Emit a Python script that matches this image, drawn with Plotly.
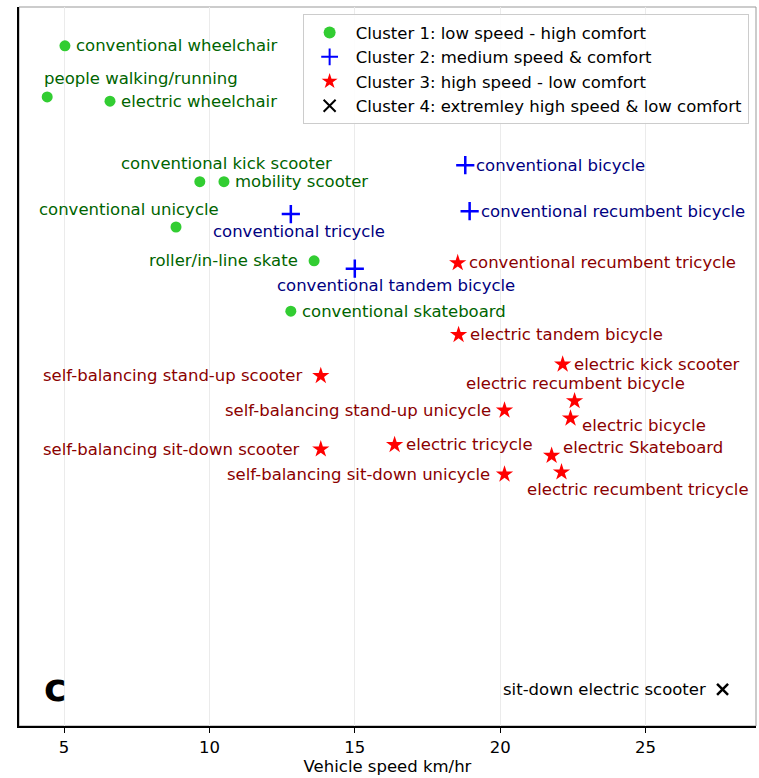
import plotly.graph_objects as go

# cluster 1: low speed - high comfort
c1_names = ["conventional wheelchair", "people walking/running", "electric wheelchair",
            "conventional kick scooter", "mobility scooter", "conventional unicycle",
            "roller/in-line skate", "conventional skateboard"]
c1_speed = [5.03, 4.42, 6.58, 9.67, 10.5, 8.85, 13.6, 12.8]
c1_comfort = [94.6, 87.5, 86.9, 75.7, 75.7, 69.4, 64.7, 57.7]

# cluster 2: medium speed & comfort
c2_names = ["conventional bicycle", "conventional tricycle",
            "conventional recumbent bicycle", "conventional tandem bicycle"]
c2_speed = [18.8, 12.8, 18.95, 15.0]
c2_comfort = [78.0, 71.2, 71.6, 63.6]

# cluster 3: high speed - low comfort
c3_names = ["conventional recumbent tricycle", "electric tandem bicycle", "electric kick scooter",
            "electric recumbent bicycle", "electric bicycle", "self-balancing stand-up scooter",
            "self-balancing stand-up unicycle", "self-balancing sit-down scooter",
            "electric tricycle", "electric Skateboard", "self-balancing sit-down unicycle",
            "electric recumbent tricycle"]
c3_speed = [18.54, 18.57, 22.15, 22.56, 22.42, 13.83, 20.15, 13.83, 16.37, 21.77, 20.15, 22.11]
c3_comfort = [64.4, 54.4, 50.3, 45.2, 42.8, 48.7, 43.9, 38.5, 39.1, 37.6, 35.0, 35.3]

# cluster 4: extremley high speed & low comfort
c4_names = ["sit-down electric scooter"]
c4_speed = [27.65]
c4_comfort = [5.1]

legend_names = ["Cluster 1: low speed - high comfort", "Cluster 2: medium speed & comfort",
                "Cluster 3: high speed - low comfort", "Cluster 4: extremley high speed & low comfort"]

# label placement: (xanchor, xshift, yshift)
R = ("left", 9, 0)
place = {
    "people walking/running": ("left", -5, 18),
    "conventional kick scooter": ("center", 27, 18),
    "conventional unicycle": ("right", 45, 18),
    "roller/in-line skate": ("right", -14, 0),
    "conventional tricycle": ("center", 8, -17),
    "conventional tandem bicycle": ("center", 41, -17),
    "electric recumbent bicycle": ("center", 1, 18),
    "electric bicycle": ("left", 9, -7),
    "self-balancing stand-up scooter": ("right", -17, 0),
    "self-balancing stand-up unicycle": ("right", -12, 0),
    "self-balancing sit-down scooter": ("right", -19, 0),
    "electric Skateboard": ("left", 9, 8),
    "self-balancing sit-down unicycle": ("right", -13, 0),
    "electric recumbent tricycle": ("center", 76, -17),
    "sit-down electric scooter": ("right", -15, 0),
}

FONT = "DejaVu Sans"
FS = 16.5
fig = go.Figure()

clusters = [
    (c1_names, c1_speed, c1_comfort, dict(symbol="circle", size=11, color="#32cd32"), "#006400"),
    (c2_names, c2_speed, c2_comfort, dict(symbol="cross-thin", size=13,
                                          line=dict(color="#0000ff", width=2.5), color="#0000ff"), "#000080"),
    (c3_names, c3_speed, c3_comfort, dict(symbol="star", size=13, color="#ff0000",
                                          line=dict(width=0)), "#8b0000"),
    (c4_names, c4_speed, c4_comfort, dict(symbol="x-thin", size=11,
                                          line=dict(color="black", width=2.5), color="black"), "black"),
]

for (names, xs, ys, marker, tcol), lname in zip(clusters, legend_names):
    fig.add_trace(go.Scatter(x=xs, y=ys, mode="markers", marker=marker, name=lname,
                             hovertext=names))
    for n, x, y in zip(names, xs, ys):
        xa, xs_, ys_ = place.get(n, R)
        fig.add_annotation(x=x, y=y, text=n, showarrow=False, xanchor=xa, yanchor="middle",
                           xshift=xs_, yshift=ys_, font=dict(family=FONT, size=FS, color=tcol))

fig.add_annotation(x=0.049, y=0.053, xref="paper", yref="paper", text="<b>c</b>",
                   xanchor="center", yanchor="middle",
                   showarrow=False, font=dict(family=FONT, size=38, color="black"))

fig.add_shape(type="rect", xref="paper", yref="paper", x0=0, y0=0, x1=1, y1=1,
              line=dict(color="#999999", width=1), layer="below")

fig.update_layout(
    width=759, height=778,
    margin=dict(l=19, r=3, t=7, b=52),
    plot_bgcolor="white", paper_bgcolor="white",
    font=dict(family=FONT, size=FS, color="black"),
    showlegend=True,
    legend=dict(x=0.99, y=0.99, xanchor="right", yanchor="top",
                bgcolor="rgba(255,255,255,0.9)", bordercolor="#cccccc", borderwidth=1,
                font=dict(family=FONT, size=FS), tracegroupgap=0, itemsizing="constant",
                itemwidth=42),
)
fig.update_xaxes(range=[3.45, 28.8], tickvals=[5, 10, 15, 20, 25], showgrid=True,
                 gridcolor="#ebebeb", gridwidth=1, zeroline=False,
                 showline=True, linecolor="black", linewidth=1.5,
                 ticks="outside", ticklen=5, tickcolor="black",
                 title=dict(text="Vehicle speed km/hr", font=dict(size=FS), standoff=4),
                 tickfont=dict(size=FS))
fig.update_yaxes(range=[0, 100], showgrid=False, zeroline=False, showticklabels=False,
                 showline=True, linecolor="black", linewidth=1.5, ticks="")

# drop the default page margin so the figure sits at the window origin
fig.write_html("out.html", config={"displayModeBar": False},
               post_script="document.body.style.margin='0px';")
